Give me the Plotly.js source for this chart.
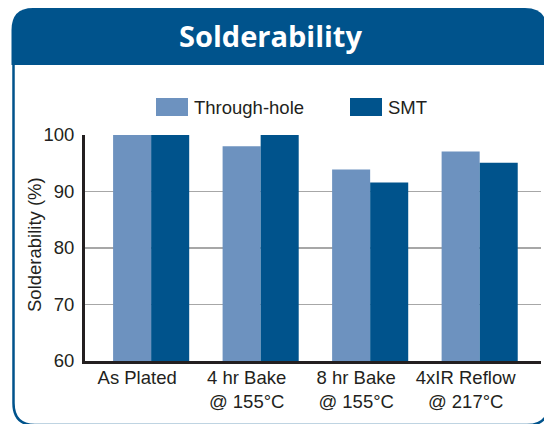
<!DOCTYPE html>
<html>
<head>
<meta charset="utf-8">
<script src="https://cdn.plot.ly/plotly-3.0.1.min.js"></script>
<style>
html,body{margin:0;padding:0;background:#fff;}
#chart{width:544px;height:424px;}
</style>
</head>
<body>
<div id="chart"></div>
<script>
// ---- data ----
const categories = ["As Plated", "4 hr Bake<br>@ 155°C", "8 hr Bake<br>@ 155°C", "4xIR Reflow<br>@ 217°C"];
const seriesNames = ["Through-hole", "SMT"];
const throughHole = [100, 98.0, 93.9, 97.1];
const smt = [100, 100, 91.6, 95.1];
const yTicks = [60, 70, 80, 90, 100];
const chartTitle = "Solderability";
const yTitle = "Solderability (%)";

// ---- layout helpers (pixel -> paper) ----
const W = 544, H = 424;
const L = 85, R = 541, T = 135, B = 361;
const px = x => (x - L) / (R - L);
const py = y => (B - y) / (B - T);
const cLight = "#6d92bf", cDark = "#00538c", cFrame = "#00538c";
const font = "Liberation Sans, Arial, Helvetica, sans-serif";
const txt = "#231f20";

const headerPath =
  `M ${px(11.5)},${py(65)} L ${px(11.5)},${py(30)} Q ${px(11.5)},${py(8)} ${px(33)},${py(8)} ` +
  `L ${px(525)},${py(8)} Q ${px(547)},${py(8)} ${px(547)},${py(30)} L ${px(547)},${py(65)} Z`;
const framePath =
  `M ${px(13.5)},${py(64)} L ${px(13.5)},${py(403)} Q ${px(13.5)},${py(425)} ${px(35)},${py(425)} ` +
  `L ${px(527)},${py(425)} Q ${px(549)},${py(425)} ${px(549)},${py(403)} L ${px(549)},${py(64)}`;

const traces = [
  {type: "bar", name: seriesNames[0], x: categories, y: throughHole,
   marker: {color: cLight, line: {width: 0}}, showlegend: false, hoverinfo: "x+y"},
  {type: "bar", name: seriesNames[1], x: categories, y: smt,
   marker: {color: cDark, line: {width: 0}}, showlegend: false, hoverinfo: "x+y"}
];

const shapes = [
  {type: "path", xref: "paper", yref: "paper", path: headerPath, fillcolor: cFrame, line: {width: 0}, layer: "below"},
  {type: "path", xref: "paper", yref: "paper", path: framePath, line: {color: cFrame, width: 2.5}, layer: "below"},
  // legend swatches
  {type: "rect", xref: "paper", yref: "paper", x0: px(156), x1: px(188), y0: py(98), y1: py(116), fillcolor: cLight, line: {width: 0}},
  {type: "rect", xref: "paper", yref: "paper", x0: px(350), x1: px(382), y0: py(98), y1: py(116), fillcolor: cDark, line: {width: 0}}
];

const annotations = [
  {xref: "paper", yref: "paper", x: px(270), y: py(35), text: "<b>" + chartTitle + "</b>", showarrow: false,
   xanchor: "center", yanchor: "middle", font: {family: "Open Sans, Noto Sans, sans-serif", size: 29, color: "#ffffff"}},
  {xref: "paper", yref: "paper", x: px(192), y: py(107), text: seriesNames[0], showarrow: false,
   xanchor: "left", yanchor: "middle", font: {family: font, size: 18.5, color: txt}},
  {xref: "paper", yref: "paper", x: px(386), y: py(107), text: seriesNames[1], showarrow: false,
   xanchor: "left", yanchor: "middle", font: {family: font, size: 18.5, color: txt}},
  {xref: "paper", yref: "paper", x: px(34), y: py(245), text: yTitle, showarrow: false, textangle: -90,
   xanchor: "center", yanchor: "middle", font: {family: font, size: 18.5, color: txt}}
];

const layout = {
  width: W, height: H,
  margin: {l: L, r: W - R, t: T, b: H - B, pad: 0},
  paper_bgcolor: "#ffffff", plot_bgcolor: "#ffffff",
  barmode: "group", bargap: 0.305, bargroupgap: 0,
  font: {family: font, size: 18.5, color: txt},
  xaxis: {
    type: "category", range: [-0.604, 3.56], showgrid: false, zeroline: false,
    showline: true, linecolor: txt, linewidth: 3, ticks: "",
    tickfont: {family: font, size: 18.5, color: txt},
    ticklabelshift: -14, ticklabelstandoff: -2, fixedrange: true
  },
  yaxis: {
    range: [60, 100], tickvals: yTicks, ticktext: yTicks.map(String),
    showgrid: true, gridcolor: "#a7a7a7", gridwidth: 1.5, zeroline: false,
    showline: true, linecolor: txt, linewidth: 3, ticks: "",
    ticklabelstandoff: 4,
    tickfont: {family: font, size: 18.5, color: txt},
    fixedrange: true
  },
  shapes: shapes,
  annotations: annotations
};

Plotly.newPlot("chart", traces, layout, {displayModeBar: false, staticPlot: true});
</script>
</body>
</html>
